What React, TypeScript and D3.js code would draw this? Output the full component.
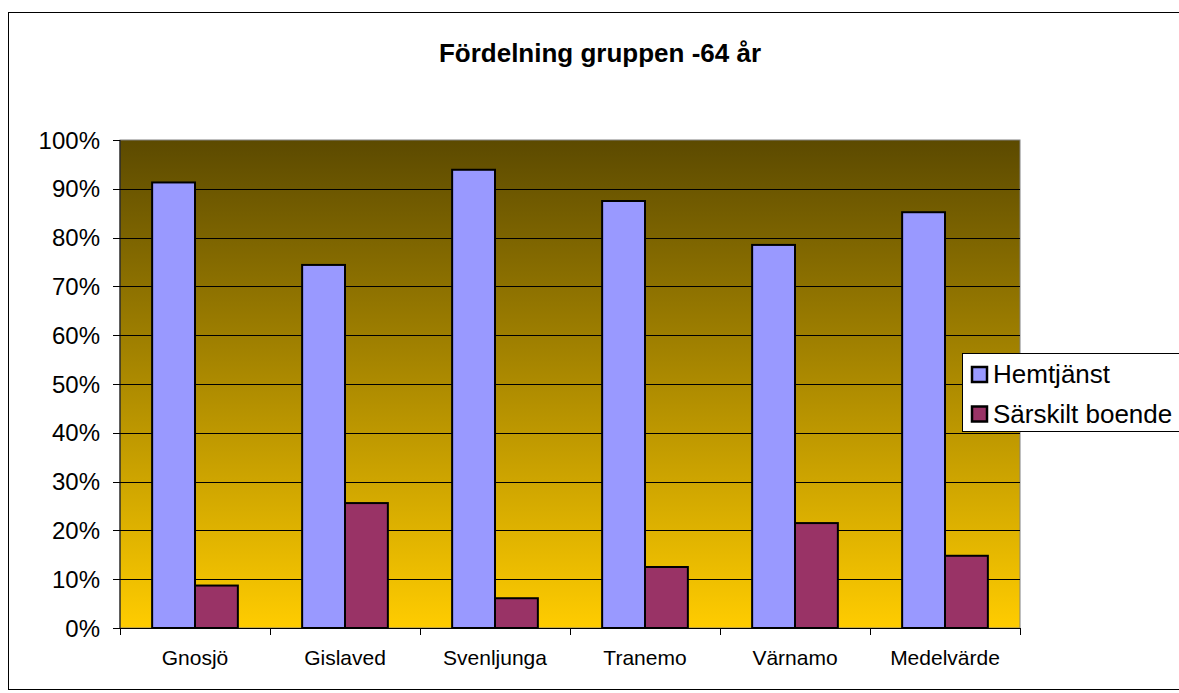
import React from 'react'
import * as d3 from 'd3'

// values (share of each group, %)
const categories = ['Gnosjö', 'Gislaved', 'Svenljunga', 'Tranemo', 'Värnamo', 'Medelvärde']
const hemtjanst = [91.3, 74.4, 93.9, 87.5, 78.5, 85.2]
const sarskilt = [8.7, 25.6, 6.1, 12.5, 21.5, 14.8]
const seriesNames = ['Hemtjänst', 'Särskilt boende']
const seriesColors = ['#9999ff', '#993366']
const yTicks = [0, 10, 20, 30, 40, 50, 60, 70, 80, 90, 100]

const W = 1179
const H = 693
const font = '"Liberation Sans", Arial, sans-serif'

export default function App() {
  const left = 120, right = 1020, top = 140, bottom = 628

  const x = d3.scaleBand().domain(categories).range([left, right])
  // gap width 150% like excel
  const x1 = d3.scaleBand().domain(seriesNames).range([0, x.bandwidth()]).paddingOuter(0.75).paddingInner(0)
  const y = d3.scaleLinear().domain([0, 100]).range([bottom, top])

  const series = [hemtjanst, sarskilt]

  return (
    <svg width={W} height={H} style={{ position: 'absolute', left: 0, top: 0, fontFamily: font }}>
      <defs>
        <linearGradient id="bg" x1="0" y1="0" x2="0" y2="1">
          <stop offset="0%" stopColor="#5c4a00" />
          <stop offset="100%" stopColor="#ffcc00" />
        </linearGradient>
      </defs>
      <rect x={0} y={0} width={W} height={H} fill="#fff" />
      <rect x={8.5} y={12.5} width={1180} height={677} fill="#fff" stroke="#000" strokeWidth={1} />

      <text x={600} y={62} textAnchor="middle" fontSize={26} fontWeight="bold">Fördelning gruppen -64 år</text>

      {/* plot area */}
      <rect x={left} y={top} width={right - left} height={bottom - top} fill="url(#bg)" stroke="#808080" strokeWidth={1} />

      {yTicks.filter(t => t > 0 && t < 100).map(t => (
        <line key={'g' + t} x1={left} x2={right} y1={Math.round(y(t)) + 0.5} y2={Math.round(y(t)) + 0.5} stroke="#000" strokeWidth={1} />
      ))}

      {categories.map((c, i) => (
        <g key={c}>
          {series.map((s, j) => (
            <rect key={j}
              x={x(c)! + x1(seriesNames[j])!}
              y={y(s[i])}
              width={x1.bandwidth()}
              height={bottom - y(s[i])}
              fill={seriesColors[j]}
              stroke="#000"
              strokeWidth={2} />
          ))}
        </g>
      ))}

      {/* axes */}
      <line x1={left} x2={left} y1={top} y2={bottom} stroke="#000" strokeWidth={1} />
      <line x1={left} x2={right} y1={bottom + 0.5} y2={bottom + 0.5} stroke="#000" strokeWidth={1} />
      {yTicks.map(t => (
        <g key={'y' + t}>
          <line x1={left - 7} x2={left} y1={Math.round(y(t)) + 0.5} y2={Math.round(y(t)) + 0.5} stroke="#000" />
          <text x={100} y={y(t) + 8.5} textAnchor="end" fontSize={24}>{t + '%'}</text>
        </g>
      ))}
      {categories.concat(['']).map((c, i) => {
        const xx = left + i * x.bandwidth()
        return <line key={'xt' + i} x1={Math.round(xx) + 0.5} x2={Math.round(xx) + 0.5} y1={bottom} y2={bottom + 7} stroke="#000" />
      })}
      {categories.map(c => (
        <text key={'xl' + c} x={x(c)! + x.bandwidth() / 2} y={665} textAnchor="middle" fontSize={21}>{c}</text>
      ))}

      {/* legend */}
      <rect x={962.5} y={353.5} width={230} height={78} fill="#fff" stroke="#000" strokeWidth={1} />
      {seriesNames.map((n, i) => (
        <g key={n}>
          <rect x={972} y={367 + i * 39.5} width={15} height={15} fill={seriesColors[i]} stroke="#000" strokeWidth={2.5} />
          <text x={993} y={383 + i * 39.5} fontSize={26}>{n}</text>
        </g>
      ))}
    </svg>
  )
}
